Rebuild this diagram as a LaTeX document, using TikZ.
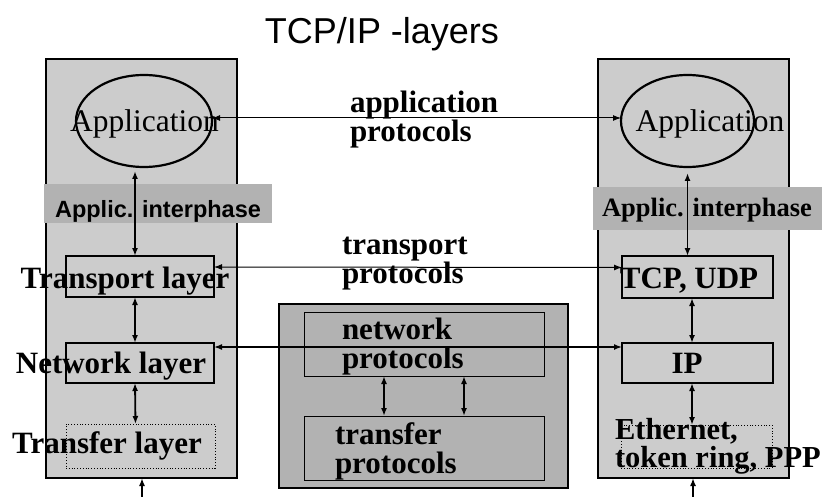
\documentclass[tikz,border=0pt]{standalone}
\usepackage{fontspec}
\setmainfont{Liberation Serif}
\setsansfont{Liberation Sans}
\usetikzlibrary{arrows.meta,shapes.geometric}
\definecolor{colgray}{gray}{0.8}
\definecolor{midgray}{gray}{0.7}
\begin{document}
\begin{tikzpicture}[x=1pt,y=-1pt,inner sep=0pt,outer sep=0pt,
>={Latex[length=8pt,width=6pt]},
column/.style={draw,rectangle,fill=colgray,line width=1.8pt,minimum width=191pt,minimum height=419pt},
midbox/.style={draw,rectangle,fill=midgray,line width=1.2pt,minimum width=289pt,minimum height=184pt},
protbox/.style={draw,rectangle,line width=1pt,minimum width=240pt,minimum height=64pt},
interbox/.style={rectangle,fill=midgray},
appell/.style={draw,ellipse,line width=2.2pt,minimum height=92pt},
layerbox/.style={draw,rectangle,line width=2pt},
dotbox/.style={draw,rectangle,dotted,line width=0.8pt},
bigtxt/.style={font=\bfseries\fontsize{31}{29}\selectfont,align=left},
thinarr/.style={<->,line width=1pt},
vertarr/.style={<->,line width=1.8pt}]
\useasboundingbox (0,0) rectangle (832,497);
\node[font=\sffamily\fontsize{36}{40}\selectfont,anchor=base] (title) at (382,44) {TCP/IP -layers};
% the two hosts and the router
\draw (141.5,268.5) node[column] (colL) {};
\draw (693.5,268.5) node[column] (colR) {};
\draw (423.5,396) node[midbox] (mid) {};
\draw (424,344) node[protbox] (netp) {};
\draw (424,448) node[protbox] (trp) {};
\node[bigtxt,anchor=base west] (netpt) at (342,368) {network\\protocols};
\node[bigtxt,anchor=base west] (trpt) at (335,473) {transfer\\protocols};
% interphase strips
\draw (158,203.5) node[interbox,minimum width=228pt,minimum height=39pt] (ifL) {};
\draw (707.5,208.5) node[interbox,minimum width=229pt,minimum height=43pt] (ifR) {};
\node[font=\sffamily\bfseries\fontsize{23.5}{26}\selectfont,anchor=base] (ifLt) at (158,218) {Applic. interphase};
\node[font=\bfseries\fontsize{26.5}{30}\selectfont,anchor=base] (ifRt) at (707,216.5) {Applic. interphase};
% applications
\draw (144,121) node[appell,minimum width=136pt] (appL) {};
\draw (687.5,121) node[appell,minimum width=133pt] (appR) {};
\node[font=\fontsize{31.5}{34}\selectfont,anchor=base] (appLt) at (144.5,131.5) {Application};
\node[font=\fontsize{31.5}{34}\selectfont,anchor=base] (appRt) at (710,131.5) {Application};
% layers, left host
\draw (140,276.5) node[layerbox,minimum width=148pt,minimum height=41pt] (tl) {};
\draw (140,363) node[layerbox,minimum width=148pt,minimum height=40pt] (nl) {};
\draw (140.5,446) node[dotbox,minimum width=149pt,minimum height=44pt] (fl) {};
\node[bigtxt,anchor=base] (tlt) at (125,288) {Transport layer};
\node[bigtxt,anchor=base] (nlt) at (111,373) {Network layer};
\node[bigtxt,anchor=base] (flt) at (107,453) {Transfer layer};
% layers, right host
\draw (697.5,277) node[layerbox,minimum width=151pt,minimum height=42pt] (tcp) {};
\draw (697.5,363) node[layerbox,minimum width=151pt,minimum height=40pt] (ip) {};
\draw (696.5,446.5) node[dotbox,minimum width=151pt,minimum height=43pt] (eth) {};
\node[bigtxt,anchor=base] (tcpt) at (689,288) {TCP, UDP};
\node[bigtxt,anchor=base] (ipt) at (687,373) {IP};
\node[bigtxt,anchor=base west,font=\bfseries\fontsize{30.5}{28}\selectfont] (etht) at (615,467) {Ethernet,\\token ring, PPP};
% protocol labels
\node[bigtxt,anchor=base west] (appp) at (350,142) {application\\protocols};
\node[bigtxt,anchor=base west] (trnp) at (342,283) {transport\\protocols};
% peer arrows
\draw[thinarr] ([yshift=3pt]appL.east) -- ([yshift=3pt]appR.west);
\draw[thinarr] ([yshift=9.5pt]tl.east) -- ([yshift=9.5pt]tcp.west);
\draw[<->,line width=1.5pt] ([yshift=16pt]nl.east) -- ([yshift=16pt]ip.west);
% stack arrows
\draw[vertarr] ([xshift=-9pt,yshift=-4pt]appL.south) -- ([xshift=-5pt]tl.north);
\draw[vertarr] ([xshift=-5pt]tl.south) -- ([xshift=-5pt]nl.north);
\draw[vertarr] ([xshift=-5pt]nl.south) -- ([xshift=-5pt]fl.north);
\draw[vertarr] ([yshift=-6pt]appR.south) -- (appR.south |- tcp.north);
\draw[vertarr] ([xshift=-5.5pt]tcp.south) -- ([xshift=-5.5pt]ip.north);
\draw[vertarr] ([xshift=-5.5pt]ip.south) -- ([xshift=-4.5pt]eth.north);
\draw[vertarr] ([xshift=-40pt]netp.south) -- ([xshift=-40pt]trp.north);
\draw[vertarr] ([xshift=40pt]netp.south) -- ([xshift=40pt]trp.north);
% links below
\coordinate (inL) at (142,497);
\coordinate (inR) at (693,497);
\draw[->,line width=1.8pt] (inL) -- (inL |- colL.south);
\draw[->,line width=1.8pt] (inR) -- (inR |- colR.south);
\end{tikzpicture}
\end{document}
